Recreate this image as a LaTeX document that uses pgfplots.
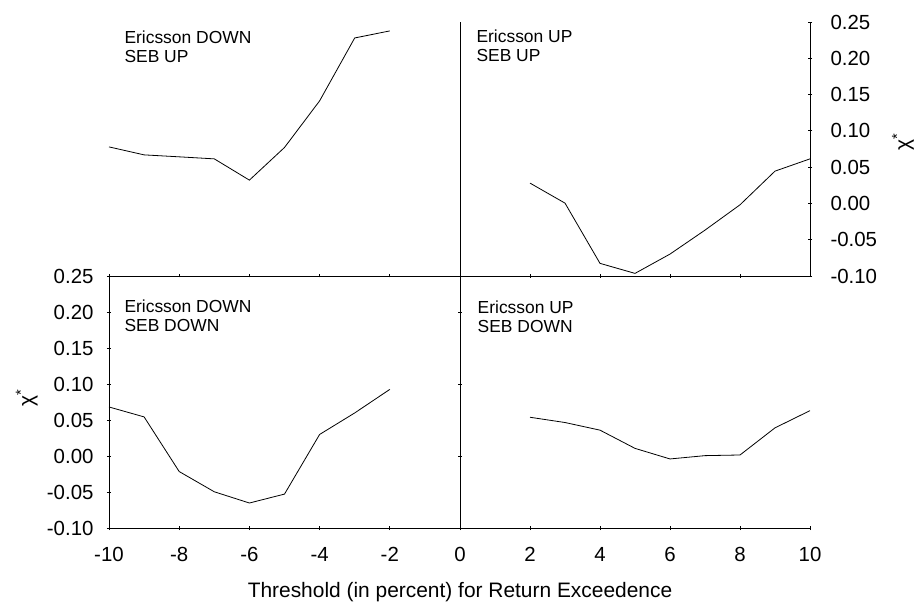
\documentclass[border=0pt]{standalone}
\usepackage{pgfplots}
\pgfplotsset{compat=1.18}
\usepackage{fontspec}
\setmainfont{Liberation Sans}
\begin{document}
\begin{tikzpicture}
\path[use as bounding box] (0,0) rectangle (918bp,606bp);
\tikzset{panel/.style={anchor=north west, align=left, font=\fontsize{17.5}{19.5}\selectfont, inner sep=0pt}}
\pgfplotsset{
  quad/.style={
    scale only axis,
    ymin=-0.1, ymax=0.25,
    tick align=outside,
    major tick length=4bp,
    every tick/.style={black, line width=0.8bp},
    tick label style={font=\fontsize{20.5}{23}\selectfont},
    /pgf/number format/assume math mode=true,
    xticklabel style={yshift=-14bp},
    yticklabel style={/pgf/number format/fixed, /pgf/number format/fixed zerofill, /pgf/number format/precision=2},
    clip=false,
  },
  noarrow/.style={axis line style={-, line width=0.8bp, black}},
  curve/.style={black, line width=0.8bp, mark=none},
}
% Top left: Ericsson DOWN, SEB UP
\begin{axis}[quad, at={(109bp,330bp)}, anchor=south west, width=351bp, height=254bp,
  xmin=-10, xmax=0, axis x line=bottom, axis y line=right,
  xtick={-10,-8,-6,-4,-2}, xticklabels={}, ytick=\empty, major tick length=3bp, noarrow]
\addplot[curve] coordinates {(-10,0.0779) (-9,0.0669) (-8,0.0642) (-7,0.0614) (-6,0.0321) (-5,0.0771) (-4,0.1413) (-3,0.2280) (-2,0.2377)};
\node[panel] at (rel axis cs:0.0436,0.967) {Ericsson DOWN\\SEB UP};
\end{axis}
% Top right: Ericsson UP, SEB UP
\begin{axis}[quad, at={(460bp,330bp)}, anchor=south west, width=350bp, height=254bp,
  xmin=0, xmax=10, axis x line=bottom, axis y line=right,
  xtick={2,4,6,8}, xticklabels={},
  ytick={-0.10,-0.05,0,0.05,0.10,0.15,0.20,0.25},
  yticklabel style={xshift=15bp},
  ylabel={χ\textsuperscript{*}},
  ylabel style={at={(axis description cs:1.266,0.528)}, anchor=center, font=\fontsize{21}{24}\selectfont},
  noarrow]
\addplot[curve] coordinates {(2,0.0280) (3,0.0004) (4,-0.0826) (5,-0.0964) (6,-0.0698) (7,-0.0368) (8,-0.0019) (9,0.0445) (10,0.0614)};
\node[panel] at (rel axis cs:0.0466,0.970) {Ericsson UP\\SEB UP};
\end{axis}
% Bottom left: Ericsson DOWN, SEB DOWN
\begin{axis}[quad, at={(109bp,78bp)}, anchor=south west, width=351bp, height=252bp,
  xmin=-10, xmax=0, axis x line=bottom, axis y line=left,
  xtick={-10,-8,-6,-4,-2},
  ytick={-0.10,-0.05,0,0.05,0.10,0.15,0.20,0.25},
  yticklabel style={xshift=-10bp},
  ylabel={χ\textsuperscript{*}},
  ylabel style={at={(axis description cs:-0.234,0.516)}, anchor=center, font=\fontsize{21}{24}\selectfont},
  noarrow]
\addplot[curve] coordinates {(-10,0.0681) (-9,0.0543) (-8,-0.0216) (-7,-0.0497) (-6,-0.0653) (-5,-0.0529) (-4,0.0299) (-3,0.0598) (-2,0.0925)};
\node[panel] at (rel axis cs:0.0436,0.906) {Ericsson DOWN\\SEB DOWN};
\end{axis}
% Bottom right: Ericsson UP, SEB DOWN
\begin{axis}[quad, at={(460bp,78bp)}, anchor=south west, width=350bp, height=252bp,
  xmin=0, xmax=10, axis x line=bottom, axis y line=left,
  xtick={0,2,4,6,8,10},
  ytick={-0.10,0,0.10,0.20}, yticklabels={},
  xlabel={Threshold (in percent) for Return Exceedence},
  xlabel style={at={(axis description cs:0,-0.254)}, anchor=center, font=\fontsize{21}{24}\selectfont},
  noarrow]
\addplot[curve] coordinates {(2,0.0538) (3,0.0465) (4,0.0359) (5,0.0106) (6,-0.0041) (7,0.0005) (8,0.0014) (9,0.0391) (10,0.0630)};
\node[panel] at (rel axis cs:0.050,0.902) {Ericsson UP\\SEB DOWN};
\end{axis}
\end{tikzpicture}
\end{document}
